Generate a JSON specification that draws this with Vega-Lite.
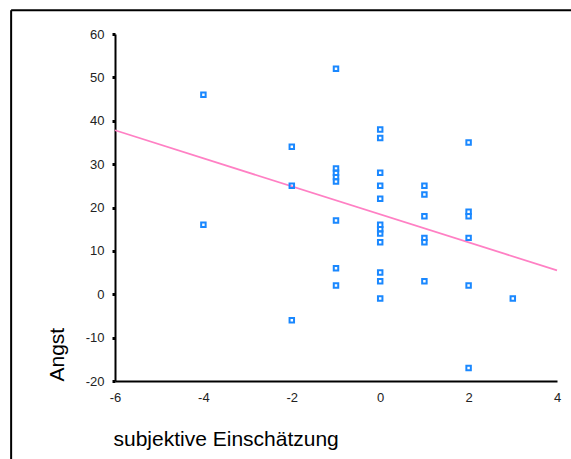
{
  "$schema": "https://vega.github.io/schema/vega-lite/v6.json",
  "width": 442,
  "height": 347,
  "autosize": {"type": "none"},
  "padding": {"left": 115, "top": 34, "right": 14, "bottom": 78},
  "background": "white",
  "config": {"view": {"stroke": null}, "font": "Liberation Sans"},
  "datasets": {
    "points": [
      {"einschaetzung": -4, "angst": 46}, {"einschaetzung": -4, "angst": 16},
      {"einschaetzung": -2, "angst": 34}, {"einschaetzung": -2, "angst": 25}, {"einschaetzung": -2, "angst": -6},
      {"einschaetzung": -1, "angst": 52}, {"einschaetzung": -1, "angst": 29}, {"einschaetzung": -1, "angst": 28},
      {"einschaetzung": -1, "angst": 27}, {"einschaetzung": -1, "angst": 26}, {"einschaetzung": -1, "angst": 17},
      {"einschaetzung": -1, "angst": 6}, {"einschaetzung": -1, "angst": 2},
      {"einschaetzung": 0, "angst": 38}, {"einschaetzung": 0, "angst": 36}, {"einschaetzung": 0, "angst": 28},
      {"einschaetzung": 0, "angst": 25}, {"einschaetzung": 0, "angst": 22}, {"einschaetzung": 0, "angst": 16},
      {"einschaetzung": 0, "angst": 15}, {"einschaetzung": 0, "angst": 14}, {"einschaetzung": 0, "angst": 12},
      {"einschaetzung": 0, "angst": 5}, {"einschaetzung": 0, "angst": 3}, {"einschaetzung": 0, "angst": -1},
      {"einschaetzung": 1, "angst": 25}, {"einschaetzung": 1, "angst": 23}, {"einschaetzung": 1, "angst": 18},
      {"einschaetzung": 1, "angst": 13}, {"einschaetzung": 1, "angst": 12}, {"einschaetzung": 1, "angst": 3},
      {"einschaetzung": 2, "angst": 35}, {"einschaetzung": 2, "angst": 19}, {"einschaetzung": 2, "angst": 18},
      {"einschaetzung": 2, "angst": 13}, {"einschaetzung": 2, "angst": 2}, {"einschaetzung": 2, "angst": -17},
      {"einschaetzung": 3, "angst": -1}
    ],
    "fit": [
      {"einschaetzung": -6, "angst": 37.8},
      {"einschaetzung": 4, "angst": 5.5}
    ],
    "one": [{}]
  },
  "layer": [
    {
      "data": {"name": "one"},
      "mark": {"type": "rule", "color": "black", "strokeWidth": 2, "clip": false},
      "encoding": {
        "x": {"datum": -8.35, "type": "quantitative"},
        "x2": {"datum": 4.5},
        "y": {"datum": 65.5, "type": "quantitative"},
        "y2": {"datum": 65.5}
      }
    },
    {
      "data": {"name": "one"},
      "mark": {"type": "rule", "color": "black", "strokeWidth": 2, "clip": false},
      "encoding": {
        "x": {"datum": -8.35, "type": "quantitative"},
        "y": {"datum": 65.5, "type": "quantitative"},
        "y2": {"datum": -42}
      }
    },
    {
      "data": {"name": "fit"},
      "mark": {"type": "line", "color": "#ff80c4", "strokeWidth": 1.7},
      "encoding": {
        "x": {"field": "einschaetzung", "type": "quantitative"},
        "y": {"field": "angst", "type": "quantitative"}
      }
    },
    {
      "data": {"name": "points"},
      "mark": {"type": "point", "shape": "square", "filled": false, "size": 20, "strokeWidth": 2, "color": "#1a88ff", "opacity": 1},
      "encoding": {
        "x": {
          "field": "einschaetzung", "type": "quantitative",
          "scale": {"domain": [-6, 4], "nice": false, "zero": false},
          "axis": {
            "title": "subjektive Einschätzung",
            "values": [-6, -4, -2, 0, 2, 4],
            "labelExpr": "'' + datum.value",
            "grid": false, "ticks": false, "domainColor": "black", "domainWidth": 2,
            "labelFont": "Liberation Sans", "labelFontSize": 13, "labelColor": "#222", "labelPadding": 10,
            "labelFlush": false,
            "titleFont": "Liberation Sans", "titleFontSize": 21, "titleFontWeight": "normal", "titleColor": "black",
            "titleAnchor": "start", "titleAlign": "left", "titleBaseline": "alphabetic", "titleX": -2, "titleY": 64
          }
        },
        "y": {
          "field": "angst", "type": "quantitative",
          "scale": {"domain": [-20, 60], "nice": false, "zero": false},
          "axis": {
            "title": "Angst",
            "values": [-20, -10, 0, 10, 20, 30, 40, 50, 60],
            "labelExpr": "'' + datum.value",
            "grid": false, "tickColor": "black", "tickSize": 3, "tickWidth": 3,
            "domainColor": "black", "domainWidth": 2,
            "labelFont": "Liberation Sans", "labelFontSize": 13, "labelColor": "#222", "labelPadding": 8,
            "labelFlush": false,
            "titleFont": "Liberation Sans", "titleFontSize": 21, "titleFontWeight": "normal", "titleColor": "black",
            "titleAngle": -90, "titleAlign": "left", "titleBaseline": "alphabetic", "titleX": -52, "titleY": 347
          }
        }
      }
    }
  ]
}
